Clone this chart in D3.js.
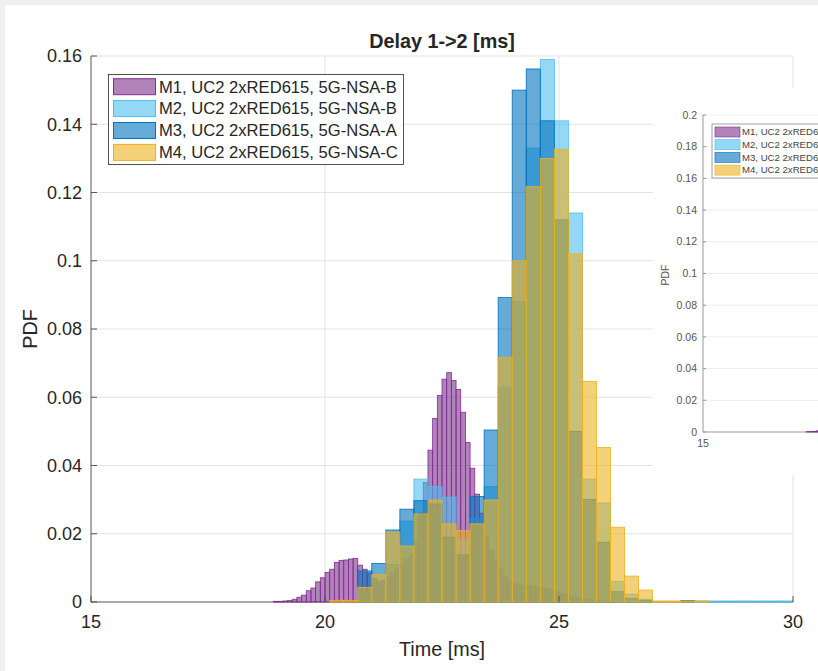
<!DOCTYPE html>
<html>
<head>
<meta charset="utf-8">
<script src="https://cdn.jsdelivr.net/npm/d3@7/dist/d3.min.js"></script>
<style>
  body { margin: 0; background: #f0f0f0; }
  svg { display: block; }
  text { font-family: "Liberation Sans", Arial, sans-serif; fill: #262626; }
</style>
</head>
<body>
<script>
// series names
var seriesNames = ["M1, UC2 2xRED615, 5G-NSA-B", "M2, UC2 2xRED615, 5G-NSA-B",
                   "M3, UC2 2xRED615, 5G-NSA-A", "M4, UC2 2xRED615, 5G-NSA-C"];
var seriesColors = ["#7E2F8E", "#4DBEEE", "#0072BD", "#EDB120"];

// M1 uses 0.1 ms bins (left edges)
var m1BinWidth = 0.1;
var m1Edges = [18.9, 19.0, 19.1, 19.2, 19.3, 19.4, 19.5, 19.6, 19.7, 19.8, 19.9,
               20.0, 20.1, 20.2, 20.3, 20.4, 20.5, 20.6, 20.7, 20.8, 20.9,
               21.0, 21.1, 21.2, 21.3, 21.4, 21.5, 21.6, 21.7, 21.8, 21.9,
               22.0, 22.1, 22.2, 22.3, 22.4, 22.5, 22.6, 22.7, 22.8, 22.9,
               23.0, 23.1, 23.2, 23.3, 23.4, 23.5, 23.6, 23.7, 23.8, 23.9,
               24.0, 24.1, 24.2, 24.3, 24.4, 24.5, 24.6, 24.7, 24.8, 24.9,
               25.0, 25.1, 25.2, 25.3, 25.4, 25.5, 25.6, 25.7, 25.8, 25.9,
               26.0, 26.1];
var m1Pdf = [0.0002, 0.0002, 0.0003, 0.0004, 0.0008, 0.0014, 0.0020, 0.0033, 0.0041, 0.0059, 0.0071,
             0.0087, 0.0096, 0.0116, 0.0122, 0.0123, 0.0126, 0.0128, 0.0108, 0.0096, 0.0085,
             0.0068, 0.0060, 0.0062, 0.0072, 0.0085, 0.0098, 0.0110, 0.0125, 0.0138, 0.0180,
             0.0260, 0.0350, 0.0445, 0.0538, 0.0605, 0.0653, 0.0672, 0.0649, 0.0623, 0.0556,
             0.0467, 0.0392, 0.0316, 0.0260, 0.0191, 0.0152, 0.0123, 0.0096, 0.0074, 0.0062,
             0.0055, 0.0050, 0.0047, 0.0050, 0.0048, 0.0045, 0.0042, 0.0040, 0.0036, 0.0030,
             0.0026, 0.0021, 0.0015, 0.0012, 0.0010, 0.0008, 0.0006, 0.0005, 0.0004, 0.0003,
             0.0002, 0.0002];

// M2..M4 use 0.3 ms bins (left edges)
var coarseBinWidth = 0.3;
var coarseEdges = [20.1, 20.4, 20.7, 21.0, 21.3, 21.6, 21.9, 22.2, 22.5, 22.8, 23.1,
                   23.4, 23.7, 24.0, 24.3, 24.6, 24.9, 25.2, 25.5, 25.8, 26.1, 26.4,
                   26.7, 27.0, 27.3, 27.6, 27.9, 28.2, 28.5, 28.8, 29.1, 29.4, 29.7];
var m2Pdf = [0, 0, 0.0030, 0.0060, 0.0110, 0.0237, 0.0360, 0.0338, 0.0307, 0.0182, 0.0245,
             0.0338, 0.0630, 0.0880, 0.1330, 0.1590, 0.1410, 0.1140, 0.0360, 0.0290, 0.0060, 0.0023,
             0.0008, 0, 0, 0.0003, 0.0003, 0.0003, 0.0003, 0.0003, 0.0003, 0.0003, 0.0003];
var m3Pdf = [0, 0, 0.0091, 0.0113, 0.0211, 0.0272, 0.0297, 0.0287, 0.0190, 0.0138, 0.0309,
             0.0504, 0.0892, 0.1500, 0.1562, 0.1410, 0.1120, 0.0500, 0.0300, 0.0175, 0.0030, 0.0010,
             0.0005, 0, 0, 0.0004, 0, 0, 0, 0, 0, 0, 0];
var m4Pdf = [0.0005, 0.0005, 0.0043, 0.0081, 0.0205, 0.0164, 0.0258, 0.0299, 0.0229, 0.0209, 0.0229,
             0.0299, 0.0717, 0.1000, 0.1217, 0.1300, 0.1327, 0.1020, 0.0646, 0.0453, 0.0219, 0.0076,
             0.0035, 0.0003, 0.0003, 0.0003, 0.0003, 0, 0, 0, 0, 0, 0];

var xTicks = [15, 20, 25, 30];
var yTicks = [0, 0.02, 0.04, 0.06, 0.08, 0.1, 0.12, 0.14, 0.16];
var insetYTicks = [0, 0.02, 0.04, 0.06, 0.08, 0.1, 0.12, 0.14, 0.16, 0.18, 0.2];

var series = [
  { edges: m1Edges, w: m1BinWidth, pdf: m1Pdf },
  { edges: coarseEdges, w: coarseBinWidth, pdf: m2Pdf },
  { edges: coarseEdges, w: coarseBinWidth, pdf: m3Pdf },
  { edges: coarseEdges, w: coarseBinWidth, pdf: m4Pdf }
];

var width = 818, height = 671;

var svg = d3.select("body").append("svg")
            .attr("width", width)
            .attr("height", height);

// white figure panel
svg.append("rect")
   .attr("x", 5).attr("y", 5)
   .attr("width", width - 5).attr("height", height - 5)
   .attr("fill", "#ffffff");

var x = d3.scaleLinear().domain([15, 30]).range([91, 793]);
var y = d3.scaleLinear().domain([0, 0.16]).range([602, 56]);

function fmt(d) { return d === 0 ? "0" : String(+d.toFixed(2)); }

// draw histograms into g with given scales
function drawBars(g, sx, sy) {
  series.forEach(function (s, i) {
    var rows = s.edges.map(function (e, k) { return { x0: e, x1: e + s.w, v: s.pdf[k] }; })
                      .filter(function (d) { return d.v > 0; });
    g.append("g").selectAll("rect")
     .data(rows)
     .enter()
     .append("rect")
     .attr("x", function (d) { return sx(d.x0); })
     .attr("y", function (d) { return sy(d.v); })
     .attr("width", function (d) { return sx(d.x1) - sx(d.x0); })
     .attr("height", function (d) { return sy(0) - sy(d.v); })
     .attr("fill", seriesColors[i])
     .attr("fill-opacity", 0.6)
     .attr("stroke", seriesColors[i])
     .attr("stroke-width", 0.8);
  });
}

// ---------- main axes ----------
var main = svg.append("g");

// grid
main.append("g").selectAll("line")
    .data(yTicks.filter(function (d) { return d > 0; }))
    .enter().append("line")
    .attr("x1", x(15)).attr("x2", x(30))
    .attr("y1", function (d) { return y(d); })
    .attr("y2", function (d) { return y(d); })
    .attr("stroke", "#e3e3e3").attr("stroke-width", 1);
main.append("g").selectAll("line")
    .data(xTicks.filter(function (d) { return d > 15; }))
    .enter().append("line")
    .attr("x1", function (d) { return x(d); })
    .attr("x2", function (d) { return x(d); })
    .attr("y1", y(0)).attr("y2", y(0.16))
    .attr("stroke", "#e3e3e3").attr("stroke-width", 1);

// axis lines
main.append("line").attr("x1", x(15)).attr("x2", x(30)).attr("y1", y(0)).attr("y2", y(0))
    .attr("stroke", "#555").attr("stroke-width", 1);
main.append("line").attr("x1", x(15)).attr("x2", x(15)).attr("y1", y(0)).attr("y2", y(0.16))
    .attr("stroke", "#555").attr("stroke-width", 1);

drawBars(main.append("g"), x, y);

// ticks (inward)
main.append("g").selectAll("line")
    .data(yTicks)
    .enter().append("line")
    .attr("x1", x(15)).attr("x2", x(15) + 6)
    .attr("y1", function (d) { return y(d); })
    .attr("y2", function (d) { return y(d); })
    .attr("stroke", "#555");
main.append("g").selectAll("line")
    .data(xTicks)
    .enter().append("line")
    .attr("x1", function (d) { return x(d); })
    .attr("x2", function (d) { return x(d); })
    .attr("y1", y(0)).attr("y2", y(0) - 6)
    .attr("stroke", "#555");

// tick labels
main.append("g").selectAll("text")
    .data(yTicks)
    .enter().append("text")
    .attr("x", x(15) - 9)
    .attr("y", function (d) { return y(d); })
    .attr("dy", "0.35em")
    .attr("text-anchor", "end")
    .style("font-size", "18px")
    .text(fmt);
main.append("g").selectAll("text")
    .data(xTicks)
    .enter().append("text")
    .attr("x", function (d) { return x(d); })
    .attr("y", 628)
    .attr("text-anchor", "middle")
    .style("font-size", "18px")
    .text(function (d) { return d; });

main.append("text").attr("x", 442).attr("y", 656)
    .attr("text-anchor", "middle").style("font-size", "19.8px")
    .text("Time [ms]");
main.append("text")
    .attr("transform", "translate(37,329) rotate(-90)")
    .attr("text-anchor", "middle").style("font-size", "19.8px")
    .text("PDF");
main.append("text").attr("x", 442).attr("y", 48)
    .attr("text-anchor", "middle").style("font-size", "19.8px")
    .style("font-weight", "bold")
    .text("Delay 1->2 [ms]");

// legend
var leg = main.append("g");
leg.append("rect").attr("x", 108.5).attr("y", 74.5).attr("width", 295).attr("height", 90)
   .attr("fill", "#fff").attr("stroke", "#262626").attr("stroke-width", 0.8);
seriesNames.forEach(function (name, i) {
  var cy = 86.7 + i * 21.9;
  leg.append("rect").attr("x", 113.5).attr("y", cy - 8).attr("width", 42).attr("height", 16)
     .attr("fill", seriesColors[i]).attr("fill-opacity", 0.6)
     .attr("stroke", seriesColors[i]).attr("stroke-width", 1);
  leg.append("text").attr("x", 159).attr("y", cy).attr("dy", "0.35em")
     .style("font-size", "16.6px").text(name);
});

// ---------- inset copy (runs off the right edge) ----------
var inset = svg.append("g");
inset.append("rect").attr("x", 653).attr("y", 88).attr("width", 165).attr("height", 387)
     .attr("fill", "#ffffff");

var ix = d3.scaleLinear().domain([15, 30]).range([703, 1100]);
var iy = d3.scaleLinear().domain([0, 0.2]).range([432, 115]);

svg.append("defs").append("clipPath").attr("id", "insetClip")
   .append("rect").attr("x", 703).attr("y", 115).attr("width", 115).attr("height", 318);

inset.append("g").selectAll("line")
     .data(insetYTicks.filter(function (d) { return d > 0; }))
     .enter().append("line")
     .attr("x1", ix(15)).attr("x2", 818)
     .attr("y1", function (d) { return iy(d); })
     .attr("y2", function (d) { return iy(d); })
     .attr("stroke", "#ececec").attr("stroke-width", 1);

inset.append("line").attr("x1", ix(15)).attr("x2", 818).attr("y1", iy(0)).attr("y2", iy(0))
     .attr("stroke", "#999");
inset.append("line").attr("x1", ix(15)).attr("x2", ix(15)).attr("y1", iy(0)).attr("y2", iy(0.2))
     .attr("stroke", "#999");

drawBars(inset.append("g").attr("clip-path", "url(#insetClip)"), ix, iy);

inset.append("g").selectAll("line")
     .data(insetYTicks)
     .enter().append("line")
     .attr("x1", ix(15)).attr("x2", ix(15) + 3)
     .attr("y1", function (d) { return iy(d); })
     .attr("y2", function (d) { return iy(d); })
     .attr("stroke", "#999");
inset.append("g").selectAll("text")
     .data(insetYTicks)
     .enter().append("text")
     .attr("x", 697)
     .attr("y", function (d) { return iy(d); })
     .attr("dy", "0.35em")
     .attr("text-anchor", "end")
     .style("font-size", "10.5px")
     .style("fill", "#555")
     .text(fmt);
inset.append("text").attr("x", ix(15)).attr("y", 447)
     .attr("text-anchor", "middle").style("font-size", "10.5px").style("fill", "#555")
     .text("15");
inset.append("text").attr("transform", "translate(669,275) rotate(-90)")
     .attr("text-anchor", "middle").style("font-size", "10.5px").style("fill", "#555")
     .text("PDF");

var ileg = inset.append("g");
ileg.append("rect").attr("x", 712).attr("y", 124).attr("width", 120).attr("height", 54)
    .attr("fill", "#fff").attr("stroke", "#888").attr("stroke-width", 0.8);
seriesNames.forEach(function (name, i) {
  var cy = 132 + i * 12.7;
  ileg.append("rect").attr("x", 715).attr("y", cy - 5).attr("width", 25).attr("height", 10)
      .attr("fill", seriesColors[i]).attr("fill-opacity", 0.6)
      .attr("stroke", seriesColors[i]).attr("stroke-width", 0.6);
  ileg.append("text").attr("x", 742).attr("y", cy).attr("dy", "0.35em")
      .style("font-size", "9.6px").style("fill", "#444").text(name);
});
</script>
</body>
</html>
